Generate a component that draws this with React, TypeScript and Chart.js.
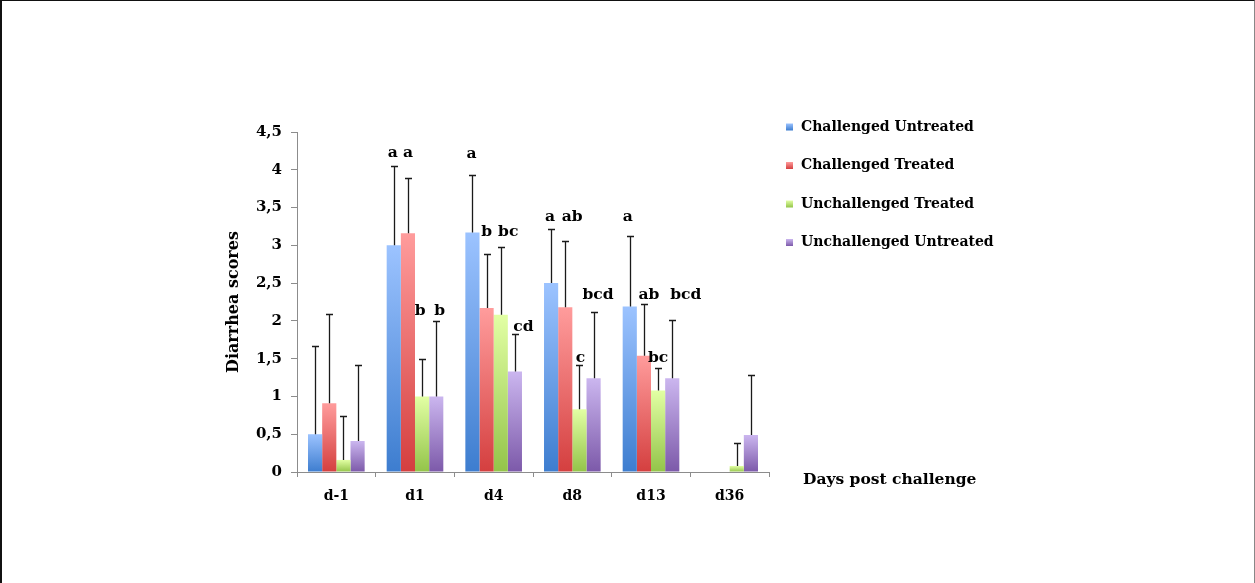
import { useEffect, useRef } from 'react';
import { Chart, registerables } from 'chart.js';

Chart.register(...registerables);

// Sampling days
const days = ['d-1', 'd1', 'd4', 'd8', 'd13', 'd36'];

// Mean diarrhea scores per group
const challengedUntreated = [0.5, 3.0, 3.17, 2.5, 2.19, 0];
const challengedTreated = [0.91, 3.16, 2.17, 2.18, 1.54, 0];
const unchallengedTreated = [0.16, 1.0, 2.08, 0.83, 1.08, 0.08];
const unchallengedUntreated = [0.41, 1.0, 1.33, 1.24, 1.24, 0.49];

// Upper standard deviations
const sdChallengedUntreated = [1.17, 1.05, 0.76, 0.71, 0.93, 0];
const sdChallengedTreated = [1.18, 0.73, 0.72, 0.88, 0.69, 0];
const sdUnchallengedTreated = [0.58, 0.5, 0.9, 0.58, 0.29, 0.3];
const sdUnchallengedUntreated = [1.0, 1.0, 0.5, 0.88, 0.77, 0.8];

// Significance letters
const sigChallengedUntreated = ['', 'a', 'a', 'a', 'a', ''];
const sigChallengedTreated = ['', 'a', 'b', 'ab', 'ab', ''];
const sigUnchallengedTreated = ['', 'b', 'bc', 'c', 'bc', ''];
const sigUnchallengedUntreated = ['', 'b', 'cd', 'bcd', 'bcd', ''];

// Group names
const groupNames = [
  'Challenged Untreated',
  'Challenged Treated',
  'Unchallenged Treated',
  'Unchallenged Untreated',
];

// Y axis ticks
const yMin = 0;
const yMax = 4.5;
const yStep = 0.5;

// Letter placement: baseline height (score units) and horizontal nudge (px)
const letterBaseline = [
  [0, 4.17, 4.16, 3.32, 3.32, 0],
  [0, 4.17, 3.12, 3.32, 2.29, 0],
  [0, 2.08, 3.12, 1.45, 1.45, 0],
  [0, 2.08, 1.87, 2.29, 2.29, 0],
];
const letterNudge = [
  [0, -1, -1, -1, -2, 0],
  [0, 0, 0, 7, 5, 0],
  [0, -2, 7.5, 1, 0, 0],
  [0, 3.5, 8.5, 4.5, 13.5, 0],
];

// Gradient stops (light top, dark bottom)
const palette = [
  { top: '#9cc3ff', bottom: '#3d7dcf' },
  { top: '#ff9c9c', bottom: '#d43f3f' },
  { top: '#e2ffa4', bottom: '#93c449' },
  { top: '#cbb6ef', bottom: '#7c59a9' },
];

const FONT = "'DejaVu Serif', serif";

const values = [challengedUntreated, challengedTreated, unchallengedTreated, unchallengedUntreated];
const sds = [sdChallengedUntreated, sdChallengedTreated, sdUnchallengedTreated, sdUnchallengedUntreated];
const sigs = [sigChallengedUntreated, sigChallengedTreated, sigUnchallengedTreated, sigUnchallengedUntreated];

function barGradient(series: number) {
  return (ctx: any) => {
    const chart = ctx.chart;
    const pal = palette[series];
    const y = chart.scales && chart.scales.y;
    if (ctx.type !== 'data' || !y || !chart.chartArea) return pal.bottom;
    const top = y.getPixelForValue(ctx.raw);
    const base = y.getPixelForValue(0);
    if (!isFinite(top) || Math.abs(base - top) < 0.5) return pal.bottom;
    const g = chart.ctx.createLinearGradient(0, top, 0, base);
    g.addColorStop(0, pal.top);
    g.addColorStop(1, pal.bottom);
    return g;
  };
}

const errorBarPlugin = {
  id: 'errorBars',
  afterDatasetsDraw(chart: any) {
    const { ctx } = chart;
    const y = chart.scales.y;
    ctx.save();
    ctx.strokeStyle = '#1a1a1a';
    ctx.lineWidth = 1.3;
    chart.data.datasets.forEach((_ds: any, di: number) => {
      const meta = chart.getDatasetMeta(di);
      meta.data.forEach((bar: any, i: number) => {
        const sd = sds[di][i];
        if (!sd) return;
        const x = Math.round(bar.x) + 0.5;
        const yTop = Math.round(y.getPixelForValue(values[di][i] + sd)) + 0.5;
        ctx.beginPath();
        ctx.moveTo(x, bar.y);
        ctx.lineTo(x, yTop);
        ctx.moveTo(x - 3.5, yTop);
        ctx.lineTo(x + 3.5, yTop);
        ctx.stroke();
      });
    });
    ctx.restore();
  },
};

const lettersPlugin = {
  id: 'sigLetters',
  afterDatasetsDraw(chart: any) {
    const { ctx } = chart;
    const y = chart.scales.y;
    ctx.save();
    ctx.fillStyle = '#000';
    ctx.font = `bold 15.5px ${FONT}`;
    ctx.textAlign = 'center';
    ctx.textBaseline = 'alphabetic';
    chart.data.datasets.forEach((_ds: any, di: number) => {
      const meta = chart.getDatasetMeta(di);
      meta.data.forEach((bar: any, i: number) => {
        const s = sigs[di][i];
        if (!s) return;
        ctx.fillText(s, bar.x + letterNudge[di][i], y.getPixelForValue(letterBaseline[di][i]));
      });
    });
    ctx.restore();
  },
};

const sideTextPlugin = {
  id: 'sideText',
  afterDraw(chart: any) {
    const { ctx, chartArea } = chart;
    ctx.save();
    // legend
    const lx = chartArea.right + 17;
    const rowTop = 126;
    const rowGap = 38.5;
    ctx.font = `bold 14px ${FONT}`;
    ctx.textBaseline = 'middle';
    ctx.textAlign = 'left';
    chart.data.datasets.forEach((ds: any, di: number) => {
      const cy = rowTop + di * rowGap;
      const g = ctx.createLinearGradient(0, cy - 3.5, 0, cy + 3.5);
      g.addColorStop(0, palette[di].top);
      g.addColorStop(1, palette[di].bottom);
      ctx.fillStyle = g;
      ctx.fillRect(lx, cy - 3.5, 7, 7);
      ctx.fillStyle = '#000';
      ctx.fillText(ds.label, lx + 15, cy);
    });
    // x axis caption, to the right of the axis
    ctx.font = `bold 15.5px ${FONT}`;
    ctx.fillText('Days post challenge', chartArea.right + 34, chartArea.bottom + 8);
    ctx.restore();
  },
};

export default function App() {
  const canvasRef = useRef<HTMLCanvasElement | null>(null);

  useEffect(() => {
    if (!canvasRef.current) return;
    const chart = new Chart(canvasRef.current, {
      type: 'bar',
      data: {
        labels: days,
        datasets: values.map((v, i) => ({
          label: groupNames[i],
          data: v,
          backgroundColor: barGradient(i),
          borderWidth: 0,
          categoryPercentage: 0.72,
          barPercentage: 1.0,
        })),
      },
      options: {
        responsive: false,
        animation: false,
        layout: { padding: { left: 222, right: 485, top: 131, bottom: 71 } },
        plugins: {
          legend: { display: false },
          tooltip: { enabled: false },
        },
        scales: {
          x: {
            grid: {
              display: true,
              drawOnChartArea: false,
              drawTicks: true,
              tickLength: 5,
              color: '#8c8c8c',
              offset: true,
            },
            border: { display: true, color: '#8c8c8c', width: 1 },
            ticks: {
              color: '#000',
              padding: 11,
              font: { family: FONT, size: 14, weight: 'bold' },
            },
            afterFit(scale: any) {
              scale.height = 40;
            },
          },
          y: {
            min: yMin,
            max: yMax,
            grid: {
              display: true,
              drawOnChartArea: false,
              drawTicks: true,
              tickLength: 6,
              color: '#8c8c8c',
            },
            border: { display: true, color: '#8c8c8c', width: 1 },
            ticks: {
              stepSize: yStep,
              color: '#000',
              padding: 9,
              font: { family: FONT, size: 15, weight: 'bold' },
              callback: (v: any) => String(v).replace('.', ','),
            },
            title: {
              display: true,
              text: 'Diarrhea scores',
              color: '#000',
              padding: 0,
              font: { family: FONT, size: 16, weight: 'bold' },
            },
            afterFit(scale: any) {
              scale.width = 73;
            },
          },
        },
      },
      plugins: [errorBarPlugin, lettersPlugin, sideTextPlugin],
    });
    return () => chart.destroy();
  }, []);

  return (
    <div
      style={{
        position: 'fixed',
        left: 0,
        top: 0,
        width: 1255,
        height: 583,
        boxSizing: 'border-box',
        borderTop: '1px solid #111',
        borderLeft: '2px solid #111',
        borderRight: '1px solid #888',
        background: '#fff',
      }}
    >
      <canvas ref={canvasRef} width={1252} height={582} style={{ display: 'block' }} />
    </div>
  );
}
